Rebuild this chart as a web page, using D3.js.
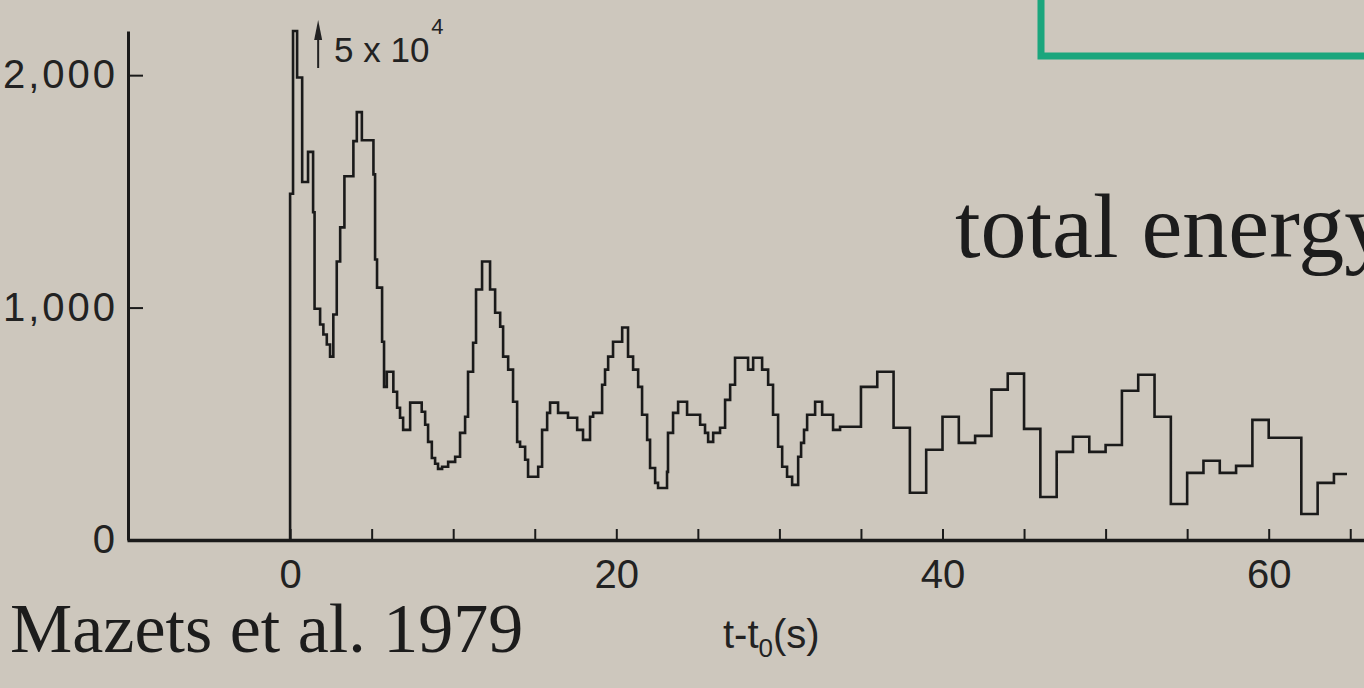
<!DOCTYPE html>
<html><head><meta charset="utf-8">
<script src="https://cdn.jsdelivr.net/npm/d3@7"></script>
<style>
html,body{margin:0;padding:0;background:#cdc7bd;overflow:hidden}
svg{display:block}
</style></head><body>
<svg id="chart" width="1364" height="688"></svg>
<script>
// bin start times (s) and counts
const times = [0.00,0.18,0.43,0.74,1.10,1.41,1.50,1.84,2.04,2.25,2.45,2.65,2.86,3.07,3.33,3.88,4.09,4.40,5.11,5.21,5.33,5.64,5.76,5.93,6.33,6.56,6.74,6.93,7.36,8.07,8.28,8.46,8.69,8.89,9.07,9.32,9.69,10.12,10.42,10.73,10.91,11.22,11.40,11.77,12.26,12.57,12.88,13.06,13.37,13.67,13.92,14.10,14.41,14.59,15.21,15.45,15.76,15.94,16.43,17.04,17.60,17.96,18.39,18.58,19.13,19.31,19.50,19.80,20.36,20.72,21.03,21.34,21.58,21.89,22.07,22.38,22.56,23.11,23.17,23.48,23.79,24.34,25.14,25.44,25.63,25.94,26.36,26.67,26.98,27.28,28.08,28.39,28.94,29.31,29.61,29.92,30.17,30.47,30.78,31.15,31.33,31.51,31.70,32.19,32.62,33.29,33.72,
  35,36,37,38,39,40,41,42,43,44,45,46,47,48,49,50,51,52,53,54,55,56,57,58,59,60,62,63,64];
const counts = [1490,50000,1990,1540,1670,1410,995,927,884,841,789,970,1198,1345,1565,1716,1841,1720,1573,1207,1086,853,659,724,638,569,526,474,591,552,496,422,353,328,306,315,336,358,461,530,724,849,1078,1198,1078,978,918,789,733,595,422,401,345,272,315,474,547,591,547,526,474,431,530,547,668,733,789,853,914,789,733,659,539,431,310,246,224,293,461,547,595,539,496,461,422,461,483,603,668,784,733,784,733,668,539,401,315,272,237,358,418,474,539,595,539,474,487,
  659,724,483,203,388,530,418,448,647,716,478,185,379,444,379,409,642,711,530,155,289,341,289,319,517,440,112,246,284];
const endTime = 64.8;

const xTickValues = [0,5,10,15,20,25,30,35,40,45,50,55,60,65];
const xTickLabels = [0,20,40,60];
const yTickValues = [0,1000,2000];
const yTickLabels = ["0","1,000","2,000"];

const W = 1364, H = 688;
const svg = d3.select("#chart");
svg.append("rect").attr("width",W).attr("height",H).attr("fill","#cdc7bd");

const x = d3.scaleLinear().domain([-10, 66]).range([127, 127 + 76*16.31]);
const y = d3.scaleLinear().domain([0, 2190]).range([540, 31]).clamp(true);

// green frame (partially visible)
svg.append("rect").attr("x",1041).attr("y",-20).attr("width",400).attr("height",76)
  .attr("fill","none").attr("stroke","#1ba67d").attr("stroke-width",7);

// step line
const pts = [{t:0,v:0}].concat(times.map((t,i)=>({t:t,v:counts[i]})));
pts.push({t:endTime, v:counts[counts.length-1]});
const line = d3.line().x(d=>x(d.t)).y(d=>y(d.v)).curve(d3.curveStepAfter);
svg.append("path").attr("d", line(pts)).attr("fill","none")
  .attr("stroke","#1a1a1a").attr("stroke-width",2.6).attr("stroke-linejoin","miter");

const font = "'Liberation Sans', Arial, Helvetica, sans-serif";

// x axis
const gx = svg.append("g").attr("transform","translate(0,540)")
  .call(d3.axisBottom(x).tickValues(xTickValues).tickSize(-11).tickSizeOuter(0).tickPadding(20)
    .tickFormat(d => xTickLabels.includes(d) ? String(d) : ""));
gx.select(".domain").attr("stroke","#1a1a1a").attr("stroke-width",3.5);
gx.selectAll(".tick line").attr("stroke","#1a1a1a").attr("stroke-width",2);
gx.selectAll(".tick text").attr("font-family",font).attr("font-size",40).attr("fill","#222");

// y axis
const gy = svg.append("g").attr("transform","translate(128,0)")
  .call(d3.axisLeft(y).tickValues(yTickValues).tickSize(-15).tickSizeOuter(0).tickPadding(10)
    .tickFormat((d,i)=>yTickLabels[i]));
gy.select(".domain").attr("stroke","#1a1a1a").attr("stroke-width",3);
gy.selectAll(".tick line").attr("stroke","#1a1a1a").attr("stroke-width",2);
gy.selectAll(".tick text").attr("font-family",font).attr("font-size",40).attr("fill","#222")
  .attr("letter-spacing",3);

// off-scale annotation
const ax = x(1.72);
svg.append("line").attr("x1",ax).attr("x2",ax).attr("y1",68).attr("y2",36)
  .attr("stroke","#222").attr("stroke-width",2);
svg.append("path").attr("d",`M${ax-4},40 L${ax},20 L${ax+4},40 Z`).attr("fill","#222");
const ann = svg.append("text").attr("x",334).attr("y",62).attr("font-family",font)
  .attr("font-size",35).attr("fill","#222");
ann.append("tspan").text("5 x 10");
ann.append("tspan").attr("dy",-28).attr("dx",2).attr("font-size",22).text("4");

// axis title
const xt = svg.append("text").attr("x",723).attr("y",648).attr("font-family",font)
  .attr("font-size",40).attr("fill","#222");
xt.append("tspan").text("t-t");
xt.append("tspan").attr("dy",9).attr("font-size",26).text("0");
xt.append("tspan").attr("dy",-9).text("(s)");

const serif = "'Liberation Serif', 'Times New Roman', Times, serif";
svg.append("text").attr("x",10).attr("y",652).attr("font-family",serif)
  .attr("font-size",70).attr("fill","#1c1c1c").text("Mazets et al. 1979");
svg.append("text").attr("x",955).attr("y",257).attr("font-family",serif)
  .attr("font-size",92).attr("fill","#1c1c1c").text("total energy");
</script>
</body></html>
